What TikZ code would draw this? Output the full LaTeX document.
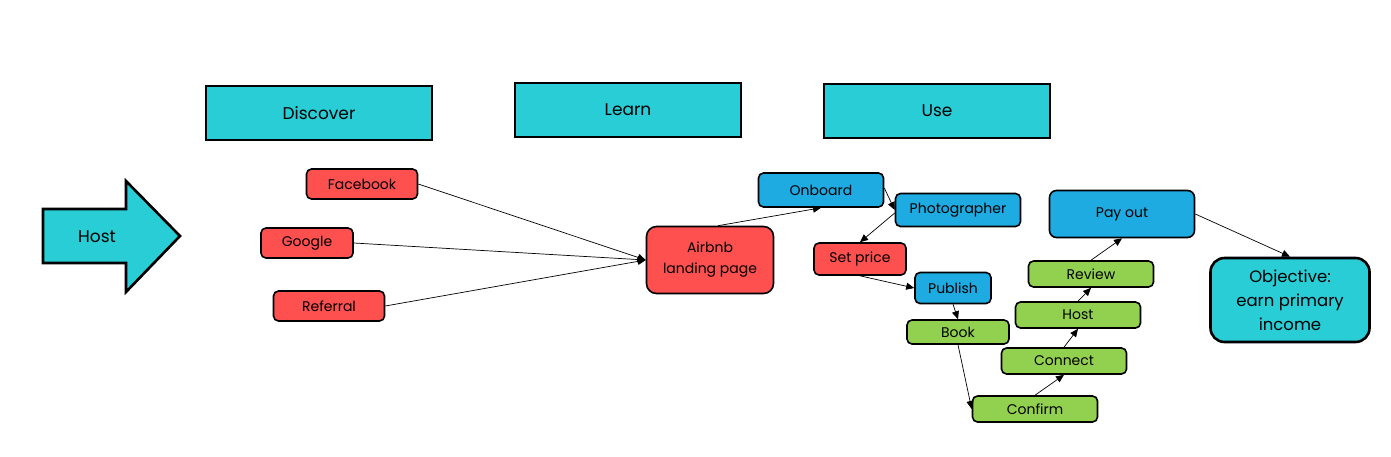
\documentclass[tikz,border=0pt]{standalone}
\usepackage{fontspec}
\setmainfont{Poppins}
\usetikzlibrary{arrows.meta}
\definecolor{tealc}{RGB}{41,205,214}
\definecolor{redc}{RGB}{255,80,80}
\definecolor{bluec}{RGB}{29,171,226}
\definecolor{greenc}{RGB}{146,208,80}
\begin{document}
\begin{tikzpicture}[x=1pt,y=-1pt,
 hdr/.style={draw=black,line width=2.6pt,fill=tealc,minimum width=226pt,minimum height=54pt,inner sep=0pt,font=\fontsize{17}{20}\selectfont},
 box/.style={draw=black,line width=1.6pt,rounded corners=5pt,inner sep=0pt,align=center,font=\fontsize{14}{21}\selectfont},
 rbox/.style={box,fill=redc},
 bbox/.style={box,fill=bluec},
 gbox/.style={box,fill=greenc,minimum width=125pt,minimum height=26pt},
 conn/.style={-{Triangle[length=8pt,width=7pt]},line width=0.7pt}
]
\useasboundingbox (0,0) rectangle (1391,456);
% headers
\node[hdr] (disc) at (319,113) {Discover};
\node[hdr] (learn) at (628,110) {Learn};
\node[hdr] (use) at (937,111) {Use};
% host arrow
\draw[line width=2.6pt,fill=tealc,line join=miter] (43,209)--(126,209)--(126,181)--(180,236)--(126,292)--(126,263)--(43,263)--cycle;
\node[font=\fontsize{17}{20}\selectfont] (host) at (97,237) {Host};
% discover
\node[rbox,minimum width=111pt,minimum height=30pt] (fb) at (362,184) {Facebook};
\node[rbox,minimum width=92pt,minimum height=30pt] (gg) at (307,243) {Google};
\node[rbox,minimum width=111pt,minimum height=30pt] (ref) at (329,306) {Referral};
% learn
\node[rbox,rounded corners=10pt,minimum width=127pt,minimum height=67pt] (air) at (710,260) {Airbnb\\landing page};
% use
\node[bbox,minimum width=125pt,minimum height=34pt] (onb) at (821,190) {Onboard};
\node[bbox,minimum width=125pt,minimum height=33pt] (ph) at (958,210) {Photographer};
\node[rbox,minimum width=92pt,minimum height=32pt] (sp) at (860,259) {Set price};
\node[bbox,minimum width=76pt,minimum height=31pt] (pub) at (953,288) {Publish};
\node[gbox,minimum width=102pt,minimum height=24pt] (bk) at (958,332) {Book};
\node[gbox] (cf) at (1035,409) {Confirm};
\node[gbox] (cn) at (1064,361) {Connect};
\node[gbox] (hs) at (1078,315) {Host};
\node[gbox] (rv) at (1091,274) {Review};
\node[bbox,rounded corners=7pt,minimum width=145pt,minimum height=47pt] (po) at (1122,214) {Pay out};
\node[box,fill=tealc,line width=2.6pt,rounded corners=14pt,minimum width=159pt,minimum height=84pt,font=\fontsize{16.5}{24}\selectfont] (obj) at (1290,300) {Objective:\\earn primary\\income};
% connectors
\draw[conn] (fb.east) -- (air.west);
\draw[conn] (gg.east) -- (air.west);
\draw[conn] (ref.east) -- (air.west);
\draw[conn] ([xshift=8pt]air.north) -- (onb.south);
\draw[conn] ([yshift=2pt]onb.east) -- (ph.west);
\draw[conn] ([yshift=-3pt]ph.west) -- (sp.north);
\draw[conn] (sp.south) -- (pub.west);
\draw[conn] (pub.south) -- (bk.north);
\draw[conn] (bk.south) -- (cf.west);
\draw[conn] (cf.north) -- (cn.south);
\draw[conn] (cn.north) -- (hs.south);
\draw[conn] (hs.north) -- (rv.south);
\draw[conn] (rv.north) -- (po.south);
\draw[conn] (po.east) -- (obj.north);
\end{tikzpicture}
\end{document}
